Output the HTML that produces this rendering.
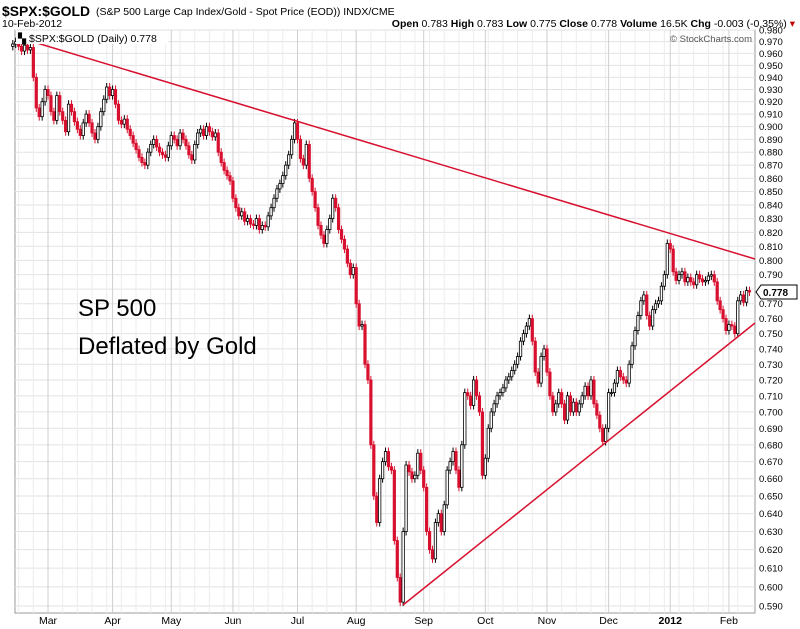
<!DOCTYPE html>
<html><head><meta charset="utf-8">
<style>
body{margin:0;background:#fff;width:800px;height:629px;overflow:hidden;font-family:"Liberation Sans",Arial,sans-serif;}
svg{position:absolute;left:0;top:0}
</style></head>
<body>
<svg id="chart" width="800" height="629" viewBox="0 0 800 629">
  <text x="2" y="16" font-size="14" font-weight="bold" fill="#000" textLength="88" lengthAdjust="spacingAndGlyphs">$SPX:$GOLD</text>
  <text x="96" y="15" font-size="10.5" fill="#000">(S&amp;P 500 Large Cap Index/Gold - Spot Price (EOD))  INDX/CME</text>
  <text x="2" y="27" font-size="10.5" fill="#000">10-Feb-2012</text>
  <text x="795" y="27" font-size="10.5" fill="#000" text-anchor="end"><tspan font-weight="bold">Open</tspan> 0.783  <tspan font-weight="bold">High</tspan> 0.783  <tspan font-weight="bold">Low</tspan> 0.775  <tspan font-weight="bold">Close</tspan> 0.778  <tspan font-weight="bold">Volume</tspan> 16.5K  <tspan font-weight="bold">Chg</tspan> -0.003 (-0.35%) <tspan fill="#c00">▾</tspan></text>
  <g id="grid"></g>
  <g id="candles"></g>
  <line x1="17" y1="37" x2="755" y2="259" stroke="#d8102f" stroke-width="1.5"/>
  <line x1="403" y1="605" x2="755" y2="323" stroke="#d8102f" stroke-width="1.5"/>
  <rect x="16" y="31" width="152" height="13" fill="#fff"/>
  <text x="18" y="42" font-size="10.5" fill="#000">▚ $SPX:$GOLD (Daily) 0.778</text>
  <text x="752" y="42" font-size="9.5" fill="#555" text-anchor="end">© StockCharts.com</text>
  <text x="78" y="316" font-size="24" fill="#000">SP 500</text>
  <text x="78" y="354" font-size="24" fill="#000">Deflated by Gold</text>
  <g id="yaxis"></g>
  <g id="xaxis"></g>
</svg>
<script>
const closes = [
0.968,0.970,0.966,0.962,0.967,0.963,0.965,0.940,0.915,0.908,0.920,0.930,
0.925,0.912,0.905,0.925,0.912,0.905,0.896,0.918,0.912,0.904,0.898,0.893,0.903,0.910,0.903,0.895,0.890,0.900,0.912,0.922,0.932,0.925,
0.930,0.918,0.905,0.902,0.906,0.898,0.893,0.887,0.882,0.876,0.872,0.870,0.880,0.886,0.890,0.884,0.880,0.878,0.876,0.885,
0.893,0.890,0.885,0.895,0.890,0.885,0.878,0.874,0.886,0.895,0.898,0.893,0.900,0.896,0.892,0.895,0.880,0.872,0.866,0.862,0.858,
0.845,0.838,0.832,0.835,0.828,0.830,0.826,0.825,0.830,0.822,0.825,0.824,0.832,0.838,0.845,0.852,0.856,0.862,0.870,0.878,0.890,0.903,
0.890,0.875,0.870,0.886,0.860,0.850,0.838,0.825,0.818,0.812,0.822,0.830,0.845,0.838,0.822,0.815,0.808,0.798,0.790,0.795,
0.770,0.755,0.756,0.730,0.720,0.680,0.650,0.635,0.660,0.670,0.676,0.667,0.665,0.625,0.605,0.592,0.630,0.668,0.664,0.660,0.662,0.675,0.665,
0.655,0.630,0.620,0.615,0.635,0.640,0.630,0.645,0.665,0.670,0.676,0.665,0.655,0.680,0.712,0.710,0.704,0.720,0.710,0.700,0.662,
0.672,0.690,0.700,0.705,0.710,0.712,0.715,0.720,0.722,0.726,0.730,0.735,0.745,0.750,0.755,0.760,0.745,0.725,0.718,0.735,0.740,
0.725,0.710,0.700,0.705,0.712,0.705,0.695,0.710,0.700,0.706,0.700,0.705,0.710,0.716,0.710,0.720,0.705,0.698,0.690,0.682,0.690,
0.712,0.712,0.718,0.726,0.722,0.720,0.718,0.730,0.742,0.752,0.762,0.772,0.776,0.762,0.755,0.766,0.770,0.772,0.782,0.790,0.812,
0.808,0.792,0.786,0.790,0.792,0.785,0.788,0.785,0.783,0.790,0.787,0.785,0.786,0.789,0.790,0.785,0.772,0.766,0.760,0.752,
0.756,0.755,0.750,0.772,0.776,0.771,0.779,0.778];
const firstOpen = [0.966];
const monthLabels = ["Mar","Apr","May","Jun","Jul","Aug","Sep","Oct","Nov","Dec","2012","Feb"];
const monthStarts = [12,34,54,75,97,117,140,161,182,203,224,244];
const yTicks = [0.59,0.60,0.61,0.62,0.63,0.64,0.65,0.66,0.67,0.68,0.69,0.70,0.71,0.72,0.73,0.74,0.75,0.76,0.77,0.78,0.79,0.80,0.81,0.82,0.83,0.84,0.85,0.86,0.87,0.88,0.89,0.90,0.91,0.92,0.93,0.94,0.95,0.96,0.97,0.98];
const lastValue = [0.778];

const NS="http://www.w3.org/2000/svg";
const L=15,R=755,T=30,B=613;
function yS(v){return 7.1-1135*Math.log(v);}
function xS(i){return 12.8+i*2.935;}
function mk(tag,attrs,parent){const e=document.createElementNS(NS,tag);for(const k in attrs)e.setAttribute(k,attrs[k]);parent.appendChild(e);return e;}
const grid=document.getElementById('grid'),cg=document.getElementById('candles'),ya=document.getElementById('yaxis'),xa=document.getElementById('xaxis');
mk('rect',{x:L,y:T,width:R-L,height:B-T,fill:'#fff',stroke:'#999','stroke-width':1},grid);
yTicks.forEach(v=>{const y=yS(v);
 const ln=mk('line',{x1:L,x2:R,y1:y,y2:y,stroke:'#e2e2e2','stroke-width':1},grid);
 
 
 const t=mk('text',{x:759,y:y+3.5,'font-size':9.5,fill:'#000'},ya);
 t.textContent=v.toFixed(3);
 
 
});
for(let i=2;i<closes.length;i+=5){const x=xS(i);
 const ln=mk('line',{x1:x,x2:x,y1:T,y2:B,stroke:'#ececec','stroke-width':1},grid);
 
 
}
monthStarts.forEach((idx,k)=>{const x=xS(idx);
 const ln=mk('line',{x1:x,x2:x,y1:T,y2:B,stroke:'#cfcfcf','stroke-width':1},grid);
 
 
 const t=mk('text',{x:x,y:624,'font-size':10.5,'text-anchor':'middle',fill:'#000','font-weight':monthLabels[k]==='2012'?'bold':'normal'},xa);
 t.textContent=monthLabels[k];
 
 
});
closes.forEach((c,i)=>{
 const o=i===0?firstOpen[0]:closes[i-1];
 const x=xS(i),yo=yS(o),yc=yS(c);
 const up=c>=o;const col=up?'#000':'#d8102f';
 const top=Math.min(yo,yc)-4,bot=Math.max(yo,yc)+4;
 const w=mk('line',{x1:x,x2:x,y1:top,y2:bot,stroke:col,'stroke-width':1},cg);
 
 
 const b=mk('rect',{x:x-1.2,y:Math.min(yo,yc),width:2.4,height:Math.max(1,Math.abs(yc-yo)),fill:up?'#fff':'#d8102f',stroke:col,'stroke-width':0.8},cg);
 
 
});
const ly=yS(lastValue[0]);
const tag=mk('path',{d:`M756 ${ly} L761 ${ly-7} L797 ${ly-7} L797 ${ly+7} L761 ${ly+7} Z`,fill:'#fff',stroke:'#000','stroke-width':1},ya);


const lt=mk('text',{x:763,y:ly+4,'font-size':10,'font-weight':'bold',fill:'#000'},ya);
lt.textContent=lastValue[0].toFixed(3);


</script>
</body></html>
